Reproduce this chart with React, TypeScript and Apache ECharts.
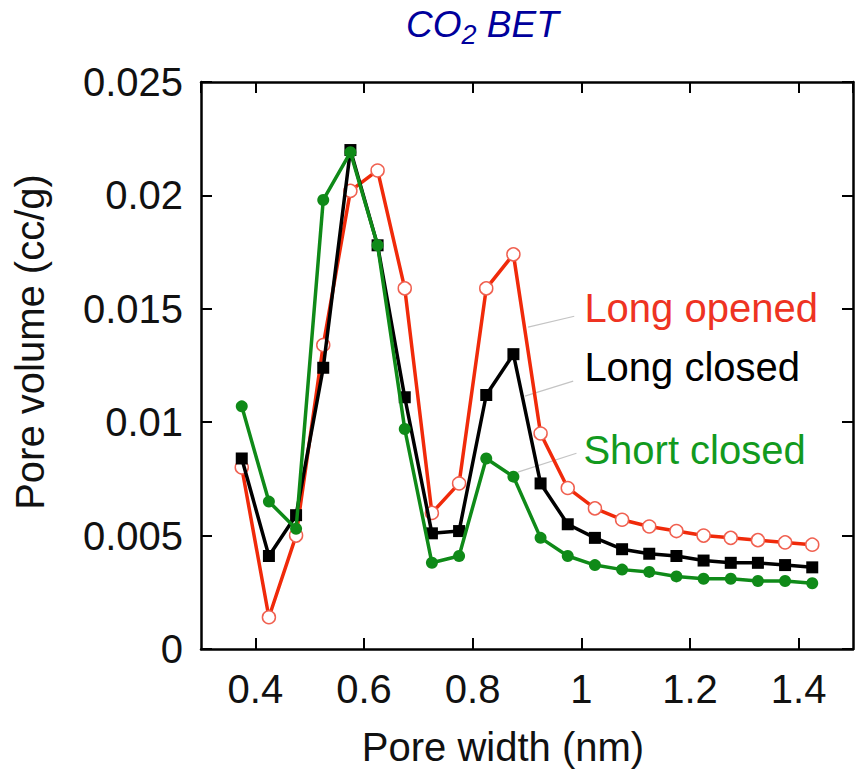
import React, { useEffect, useRef } from "react";
import * as echarts from "echarts";

const poreWidth = [
  0.375, 0.425, 0.475, 0.525, 0.575, 0.625, 0.675, 0.725, 0.775, 0.825, 0.875,
  0.925, 0.975, 1.025, 1.075, 1.125, 1.175, 1.225, 1.275, 1.325, 1.375, 1.425,
];
const longOpened = [
  0.008, 0.0014, 0.005, 0.0134, 0.0202, 0.0211, 0.0159, 0.006, 0.0073, 0.0159,
  0.0174, 0.0095, 0.0071, 0.0062, 0.0057, 0.0054, 0.0052, 0.005, 0.0049, 0.0048,
  0.0047, 0.0046,
];
const longClosed = [
  0.0084, 0.0041, 0.0059, 0.0124, 0.022, 0.0178, 0.0111, 0.0051, 0.0052, 0.0112,
  0.013, 0.0073, 0.0055, 0.0049, 0.0044, 0.0042, 0.0041, 0.0039, 0.0038, 0.0038,
  0.0037, 0.0036,
];
const shortClosed = [
  0.0107, 0.0065, 0.0053, 0.0198, 0.0219, 0.0178, 0.0097, 0.0038, 0.0041, 0.0084,
  0.0076, 0.0049, 0.0041, 0.0037, 0.0035, 0.0034, 0.0032, 0.0031, 0.0031, 0.003,
  0.003, 0.0029,
];

const seriesNames = ["Long opened", "Long closed", "Short closed"];
const lineColors = ["#f02a0a", "#000000", "#0f8a18"];
const textColors = ["#ee3322", "#000000", "#129a1e"];
// annotation anchors in data coordinates
const leaderStart = [
  [0.902, 0.01419],
  [0.896, 0.01115],
  [0.883, 0.0078],
];
const leaderEnd = [
  [0.987, 0.01467],
  [0.985, 0.01181],
  [0.991, 0.00863],
];
const labelAnchor = [
  [1.0056, 0.01502],
  [1.0056, 0.01242],
  [1.0038, 0.00877],
];

const FONT = "'Liberation Sans', Arial, Helvetica, sans-serif";

export default function App() {
  const ref = useRef<HTMLDivElement>(null);
  useEffect(() => {
    if (!ref.current) return;
    const chart = echarts.init(ref.current, undefined, { renderer: "svg" });
    const axisCommon = {
      type: "value" as const,
      axisLine: { show: true, onZero: false, lineStyle: { color: "#000", width: 2.5 } },
      axisTick: { show: true, inside: true, length: 11, lineStyle: { color: "#000", width: 2 } },
      splitLine: { show: false },
    };
    const xRange = { min: 0.3, max: 1.5, splitNumber: 6 };
    const yRange = { min: 0, max: 0.025, interval: 0.005 };
    chart.setOption({
      animation: false,
      backgroundColor: "#fff",
      title: {
        text: "{a|CO}{b|2}{a| BET}",
        left: 401,
        top: -4,
        textStyle: {
          fontWeight: "normal",
          rich: {
            a: { fontSize: 37, fontStyle: "italic", fontWeight: "normal", color: "#00009c", fontFamily: FONT, lineHeight: 42 },
            b: { fontSize: 27, fontStyle: "italic", fontWeight: "normal", color: "#00009c", fontFamily: FONT, padding: [20, 0, 0, 0] },
          },
        },
      },
      grid: { left: 201, right: 3, top: 82, bottom: 122, containLabel: false },
      xAxis: [
        {
          ...axisCommon,
          ...xRange,
          position: "bottom",
          name: "Pore width (nm)",
          nameLocation: "middle",
          nameGap: 78,
          nameTextStyle: { fontSize: 40, color: "#111", fontFamily: FONT, padding: [0, 48, 0, 0] },
          axisLabel: {
            show: true,
            fontSize: 40,
            color: "#111",
            fontFamily: FONT,
            margin: 20,
            showMinLabel: false,
            showMaxLabel: false,
          },
        },
        {
          ...axisCommon,
          ...xRange,
          position: "top",
          axisLabel: { show: false },
        },
      ],
      yAxis: [
        {
          ...axisCommon,
          ...yRange,
          position: "left",
          axisLabel: { show: true, fontSize: 40, color: "#111", fontFamily: FONT, margin: 18 },
        },
        {
          ...axisCommon,
          ...yRange,
          position: "right",
          axisLabel: { show: false },
        },
      ],
      series: [
        {
          name: seriesNames[0],
          type: "line",
          data: poreWidth.map((x, i) => [x, longOpened[i]]),
          symbol: "circle",
          symbolSize: 13,
          lineStyle: { color: lineColors[0], width: 3.5 },
          itemStyle: { color: "#ffffff", borderColor: "#f06050", borderWidth: 1.5 },
          z: 2,
        },
        {
          name: seriesNames[1],
          type: "line",
          data: poreWidth.map((x, i) => [x, longClosed[i]]),
          symbol: "rect",
          symbolSize: 12,
          lineStyle: { color: lineColors[1], width: 3.5 },
          itemStyle: { color: lineColors[1] },
          z: 3,
        },
        {
          name: seriesNames[2],
          type: "line",
          data: poreWidth.map((x, i) => [x, shortClosed[i]]),
          symbol: "circle",
          symbolSize: 12,
          lineStyle: { color: lineColors[2], width: 3.5 },
          itemStyle: { color: lineColors[2] },
          z: 4,
        },
      ],
    });

    const toPx = (p: number[]) => chart.convertToPixel({ xAxisIndex: 0, yAxisIndex: 0 }, p) as number[];
    const graphics: any[] = [];
    seriesNames.forEach((name, i) => {
      const s = toPx(leaderStart[i]);
      const e = toPx(leaderEnd[i]);
      const t = toPx(labelAnchor[i]);
      graphics.push({
        type: "line",
        shape: { x1: s[0], y1: s[1], x2: e[0], y2: e[1] },
        style: { stroke: "#c4c4c4", lineWidth: 1.2 },
        z: 1,
      });
      graphics.push({
        type: "text",
        x: t[0],
        y: t[1],
        style: {
          text: name,
          fill: textColors[i],
          font: `40px ${FONT}`,
          textAlign: "left",
          textVerticalAlign: "middle",
        },
        z: 10,
      });
    });
    graphics.push({
      type: "text",
      x: 30,
      y: 342,
      rotation: Math.PI / 2,
      style: {
        text: "Pore volume (cc/g)",
        fill: "#111",
        font: `40px ${FONT}`,
        textAlign: "center",
        textVerticalAlign: "middle",
      },
    });
    chart.setOption({ graphic: graphics });

    return () => chart.dispose();
  }, []);
  return (
    <div
      ref={ref}
      style={{ position: "absolute", left: 0, top: 0, width: 856, height: 772, background: "#fff" }}
    />
  );
}
